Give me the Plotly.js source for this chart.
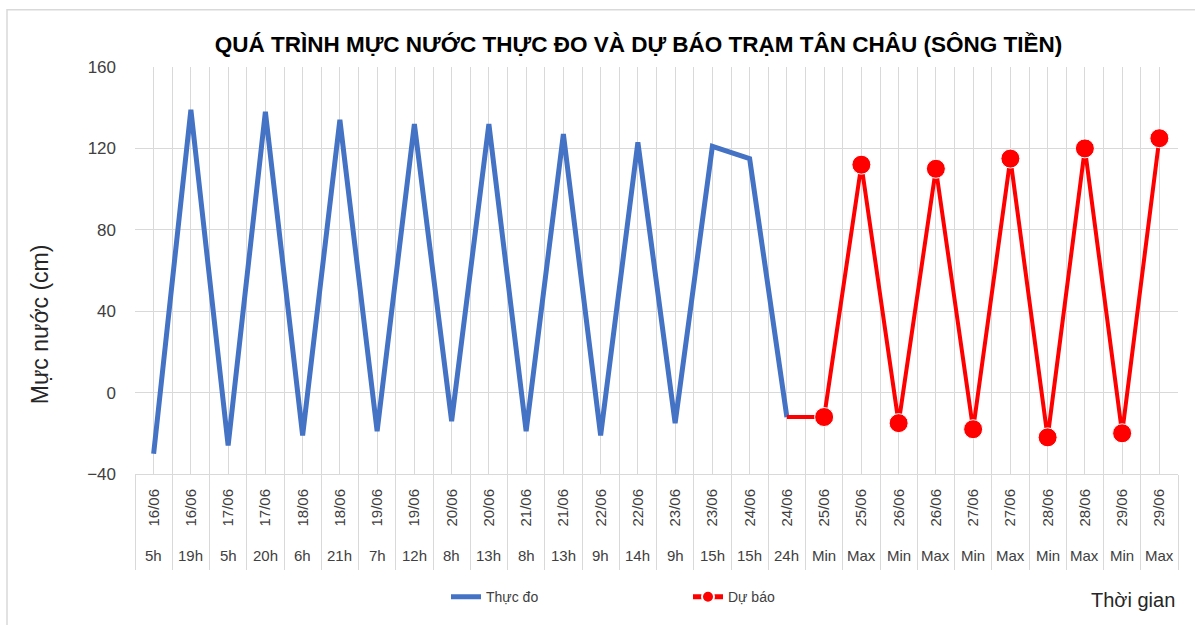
<!DOCTYPE html>
<html>
<head>
<meta charset="utf-8">
<script src="https://cdn.plot.ly/plotly-3.0.1.min.js"></script>
<style>html,body{margin:0;padding:0;background:#fff;}#chart{width:1195px;height:625px;}</style>
</head>
<body>
<div id="chart"></div>
<script>
const dateLabels = ["16/06","16/06","17/06","17/06","18/06","18/06","19/06","19/06","20/06","20/06","21/06","21/06","22/06","22/06","23/06","23/06","24/06","24/06","25/06","25/06","26/06","26/06","27/06","27/06","28/06","28/06","29/06","29/06"];
const hourLabels = ["5h","19h","5h","20h","6h","21h","7h","12h","8h","13h","8h","13h","9h","14h","9h","15h","15h","24h","Min","Max","Min","Max","Min","Max","Min","Max","Min","Max"];
const observed = [-30,139,-26,138,-21,134,-19,132,-14,132,-19,127,-21,123,-15,121,115,-12,null,null,null,null,null,null,null,null,null,null];
const forecast = [null,null,null,null,null,null,null,null,null,null,null,null,null,null,null,null,null,-12,-12,112,-15,110,-18,115,-22,120,-20,125];

const idx = dateLabels.map((d, i) => i);
const FONT = "Liberation Sans, Arial, sans-serif";

const traces = [
  {
    x: idx, y: observed, name: "Thực đo", type: "scatter", mode: "lines",
    line: {color: "#4472C4", width: 5}, connectgaps: false
  },
  {
    x: idx, y: forecast, name: "Dự báo", type: "scatter", mode: "lines+markers",
    line: {color: "#FF0000", width: 4},
    marker: {color: "#FF0000", opacity: 1, size: forecast.map((v, i) => (i === 17 ? 0 : 19))}
  }
];

const plotL = 135, plotR = 1178, plotT = 67, plotB = 480;
const pw = plotR - plotL, ph = plotB - plotT;
const px = v => (v - plotL) / pw;
const py = v => (plotB - v) / ph;

const annotations = hourLabels.map((h, i) => ({
  x: i, xref: "x", y: py(563), yref: "paper", text: h, showarrow: false,
  xanchor: "center", yanchor: "middle", font: {family: FONT, size: 15, color: "#404040"}
}));
annotations.push({
  x: px(1177), xref: "paper", y: py(608), yref: "paper", text: "Thời gian", showarrow: false,
  xanchor: "right", yanchor: "middle", font: {family: FONT, size: 20, color: "#262626"}
});
annotations.push({
  x: px(40), xref: "paper", y: py(328), yref: "paper", text: "Mực nước (cm)", showarrow: false,
  textangle: -90, xanchor: "center", yanchor: "middle", font: {family: FONT, size: 23, color: "#262626"}
});

const layout = {
  width: 1195, height: 625,
  margin: {l: plotL, r: 1195 - plotR, t: plotT, b: 625 - plotB},
  paper_bgcolor: "#ffffff", plot_bgcolor: "#ffffff",
  title: {
    text: "<b>QUÁ TRÌNH MỰC NƯỚC THỰC ĐO VÀ DỰ BÁO TRẠM TÂN CHÂU (SÔNG TIỀN)</b>",
    font: {family: FONT, size: 22.5, color: "#000000"},
    x: px(638.5), xref: "paper", xanchor: "center", y: 1 - 44 / 625, yanchor: "middle"
  },
  xaxis: {
    type: "linear", range: [-0.5, 27.5], fixedrange: true,
    tickmode: "array", tickvals: idx, ticktext: dateLabels, tickangle: -90,
    ticks: "", showgrid: true, gridcolor: "#d9d9d9", gridwidth: 1,
    tickfont: {family: FONT, size: 15, color: "#404040"},
    ticklabelstandoff: 8,
    zeroline: false, showline: true, linecolor: "#d9d9d9", linewidth: 1,
    minor: {tickmode: "linear", tick0: -0.5, dtick: 1, showgrid: true, gridcolor: "#d9d9d9", gridwidth: 1,
            ticks: "outside", ticklen: 95, tickcolor: "#d9d9d9", tickwidth: 1}
  },
  yaxis: {
    range: [-40, 160], tickmode: "linear", tick0: -40, dtick: 40, fixedrange: true,
    showgrid: true, gridcolor: "#d9d9d9", gridwidth: 1, zeroline: false,
    showline: false, ticks: "", ticklabelstandoff: 18,
    tickfont: {family: FONT, size: 17, color: "#404040"}
  },
  showlegend: true,
  legend: {
    orientation: "h", x: px(446), xanchor: "left", y: py(605), yanchor: "middle",
    font: {family: FONT, size: 14, color: "#404040"},
    entrywidth: 197, itemsizing: "constant", bgcolor: "rgba(0,0,0,0)"
  },
  annotations: annotations,
  shapes: [
    {type: "rect", xref: "paper", yref: "paper", x0: px(7), x1: px(1300), y0: py(700), y1: py(9),
     line: {color: "#d9d9d9", width: 1.5}, fillcolor: "rgba(0,0,0,0)", layer: "below"}
  ]
};

Plotly.newPlot("chart", traces, layout, {displayModeBar: false, staticPlot: true});
</script>
</body>
</html>
